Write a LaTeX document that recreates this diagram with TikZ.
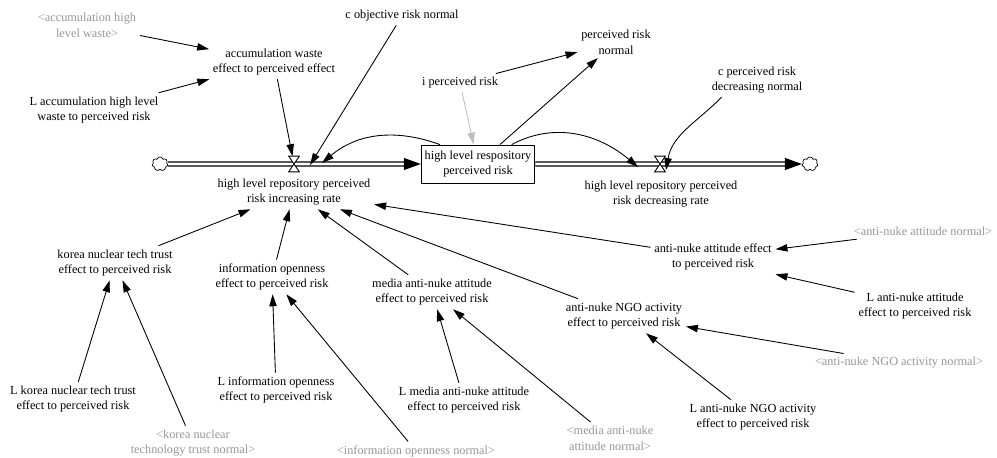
\documentclass[tikz,border=0pt]{standalone}
\usepackage{fontspec}
\setmainfont{Liberation Serif}
\usetikzlibrary{arrows.meta,shapes.symbols}
\definecolor{shadowgray}{RGB}{150,150,150}
\definecolor{initgray}{RGB}{190,190,190}
\tikzset{
    var/.style={inner sep=2pt, align=center},
    shadow/.style={var, text=shadowgray},
    level/.style={draw, line width=0.5pt, minimum width=2.24cm,
                  minimum height=0.76cm, inner sep=2pt, align=center},
    link/.style={-{Triangle[length=6.8pt,width=4.2pt]}, line width=0.5pt},
    initlink/.style={link, color=initgray},
    pipe/.style={double distance=1.6pt, line width=0.7pt, shorten >=0.33cm},
    pipehead/.style={-{Triangle[length=0.34cm,width=0.24cm]}, line width=0.6pt},
    valve/.style={minimum width=0.2cm, minimum height=0.3cm, inner sep=0pt},
    cloudend/.style={cloud, draw, cloud puffs=7, aspect=1.1, inner sep=0pt,
                     minimum width=0.32cm, minimum height=0.28cm, fill=white},
}

\begin{document}
\begin{tikzpicture}[font=\fontsize{7}{8.9}\selectfont]

    \useasboundingbox (0,0) rectangle (19.94,-9.16);

    \node[cloudend] (source) at (3.20,-3.28) {};
    \node[level] (stock) at (9.56,-3.28) {high level respository\\perceived risk};
    \node[cloudend] (sink) at (16.20,-3.28) {};
    \draw[pipe] (source) -- (stock);
    \draw[pipehead] ([xshift=-0.34cm]stock.west) -- (stock.west);
    \draw[pipe] (stock) -- (sink);
    \draw[pipehead] ([xshift=-0.34cm]sink.west) -- (sink.west);

    \node[valve] (inflow) at (5.88,-3.28) {};
    \node[valve] (outflow) at (13.20,-3.28) {};
    \foreach \v in {inflow,outflow}
        \draw[fill=white, line width=0.5pt] (\v.north west) -- (\v.north east)
            -- (\v.south west) -- (\v.south east) -- cycle;
    \node[var] (inrate) at (5.88,-3.84) {high level repository perceived\\risk increasing rate};
    \node[var] (outrate) at (13.22,-3.88) {high level repository perceived\\risk decreasing rate};

    \node[shadow] (accwaste) at (1.74,-0.50) {<accumulation high\\level waste>};
    \node[var] (Laccwaste) at (1.88,-2.20) {L accumulation high level\\waste to perceived risk};
    \node[var] (acceff) at (5.48,-1.24) {accumulation waste\\effect to perceived effect};
    \node[var] (cobjective) at (8.04,-0.32) {c objective risk normal};
    \node[var] (iperceived) at (9.20,-1.66) {i perceived risk};
    \node[var] (prnormal) at (12.32,-0.84) {perceived risk\\normal};
    \node[var] (cprdecrease) at (15.14,-1.60) {c perceived risk\\decreasing normal};

    \node[var] (korea) at (2.30,-5.26) {korea nuclear tech trust\\effect to perceived risk};
    \node[var] (info) at (5.44,-5.54) {information openness\\effect to perceived risk};
    \node[var] (media) at (8.64,-5.84) {media anti-nuke attitude\\effect to perceived risk};
    \node[var] (ngo) at (12.48,-6.32) {anti-nuke NGO activity\\effect to perceived risk};
    \node[var] (antinuke) at (14.26,-5.14) {anti-nuke attitude effect\\to perceived risk};

    \node[var] (Lkorea) at (1.46,-7.98) {L korea nuclear tech trust\\effect to perceived risk};
    \node[shadow] (koreanormal) at (3.86,-8.86) {<korea nuclear\\technology trust normal>};
    \node[var] (Linfo) at (5.52,-7.80) {L information openness\\effect to perceived risk};
    \node[shadow] (infonormal) at (8.32,-9.02) {<information openness normal>};
    \node[var] (Lmedia) at (9.28,-8.00) {L media anti-nuke attitude\\effect to perceived risk};
    \node[shadow] (medianormal) at (12.20,-8.76) {<media anti-nuke\\attitude normal>};
    \node[var] (Lngo) at (15.06,-8.34) {L anti-nuke NGO activity\\effect to perceived risk};
    \node[shadow] (ngonormal) at (17.98,-7.26) {<anti-nuke NGO activity normal>};
    \node[var] (Lantinuke) at (18.30,-6.12) {L anti-nuke attitude\\effect to perceived risk};
    \node[shadow] (antinukenormal) at (18.46,-4.62) {<anti-nuke attitude normal>};

    \coordinate (objhead) at (6.20,-3.30);
    \coordinate (inhead) at (6.44,-3.26);
    \coordinate (outhead) at (12.76,-3.34);
    \coordinate (dechead) at (13.32,-3.40);

    \draw[link] (accwaste) -- (acceff);
    \draw[link] (Laccwaste) -- (acceff);
    \draw[link] (acceff) -- (inflow);
    \draw[link] (cobjective) -- (objhead);
    \draw[link] (stock.153) to[out=160, in=40] (inhead);
    \draw[initlink] (iperceived) -- (stock);
    \draw[link] (iperceived) -- (prnormal);
    \draw[link] (stock) -- (prnormal);
    \draw[link] (stock.30) to[out=28, in=140] (outhead);
    \draw[link] (cprdecrease.206) to[out=225, in=80] (dechead);

    \draw[link] (korea) -- (inrate);
    \draw[link] (info) -- (inrate);
    \draw[link] (media) -- (inrate);
    \draw[link] (ngo) -- (inrate);
    \draw[link] (antinuke) -- (inrate);

    \draw[link] (Lkorea) -- (korea);
    \draw[link] (koreanormal) -- (korea);
    \draw[link] (Linfo) -- (info);
    \draw[link] (infonormal) -- (info);
    \draw[link] (Lmedia) -- (media);
    \draw[link] (medianormal) -- (media);
    \draw[link] (Lngo) -- (ngo);
    \draw[link] (ngonormal) -- (ngo);
    \draw[link] (Lantinuke) -- (antinuke.south east);
    \draw[link] (antinukenormal) -- (antinuke);

\end{tikzpicture}
\end{document}
